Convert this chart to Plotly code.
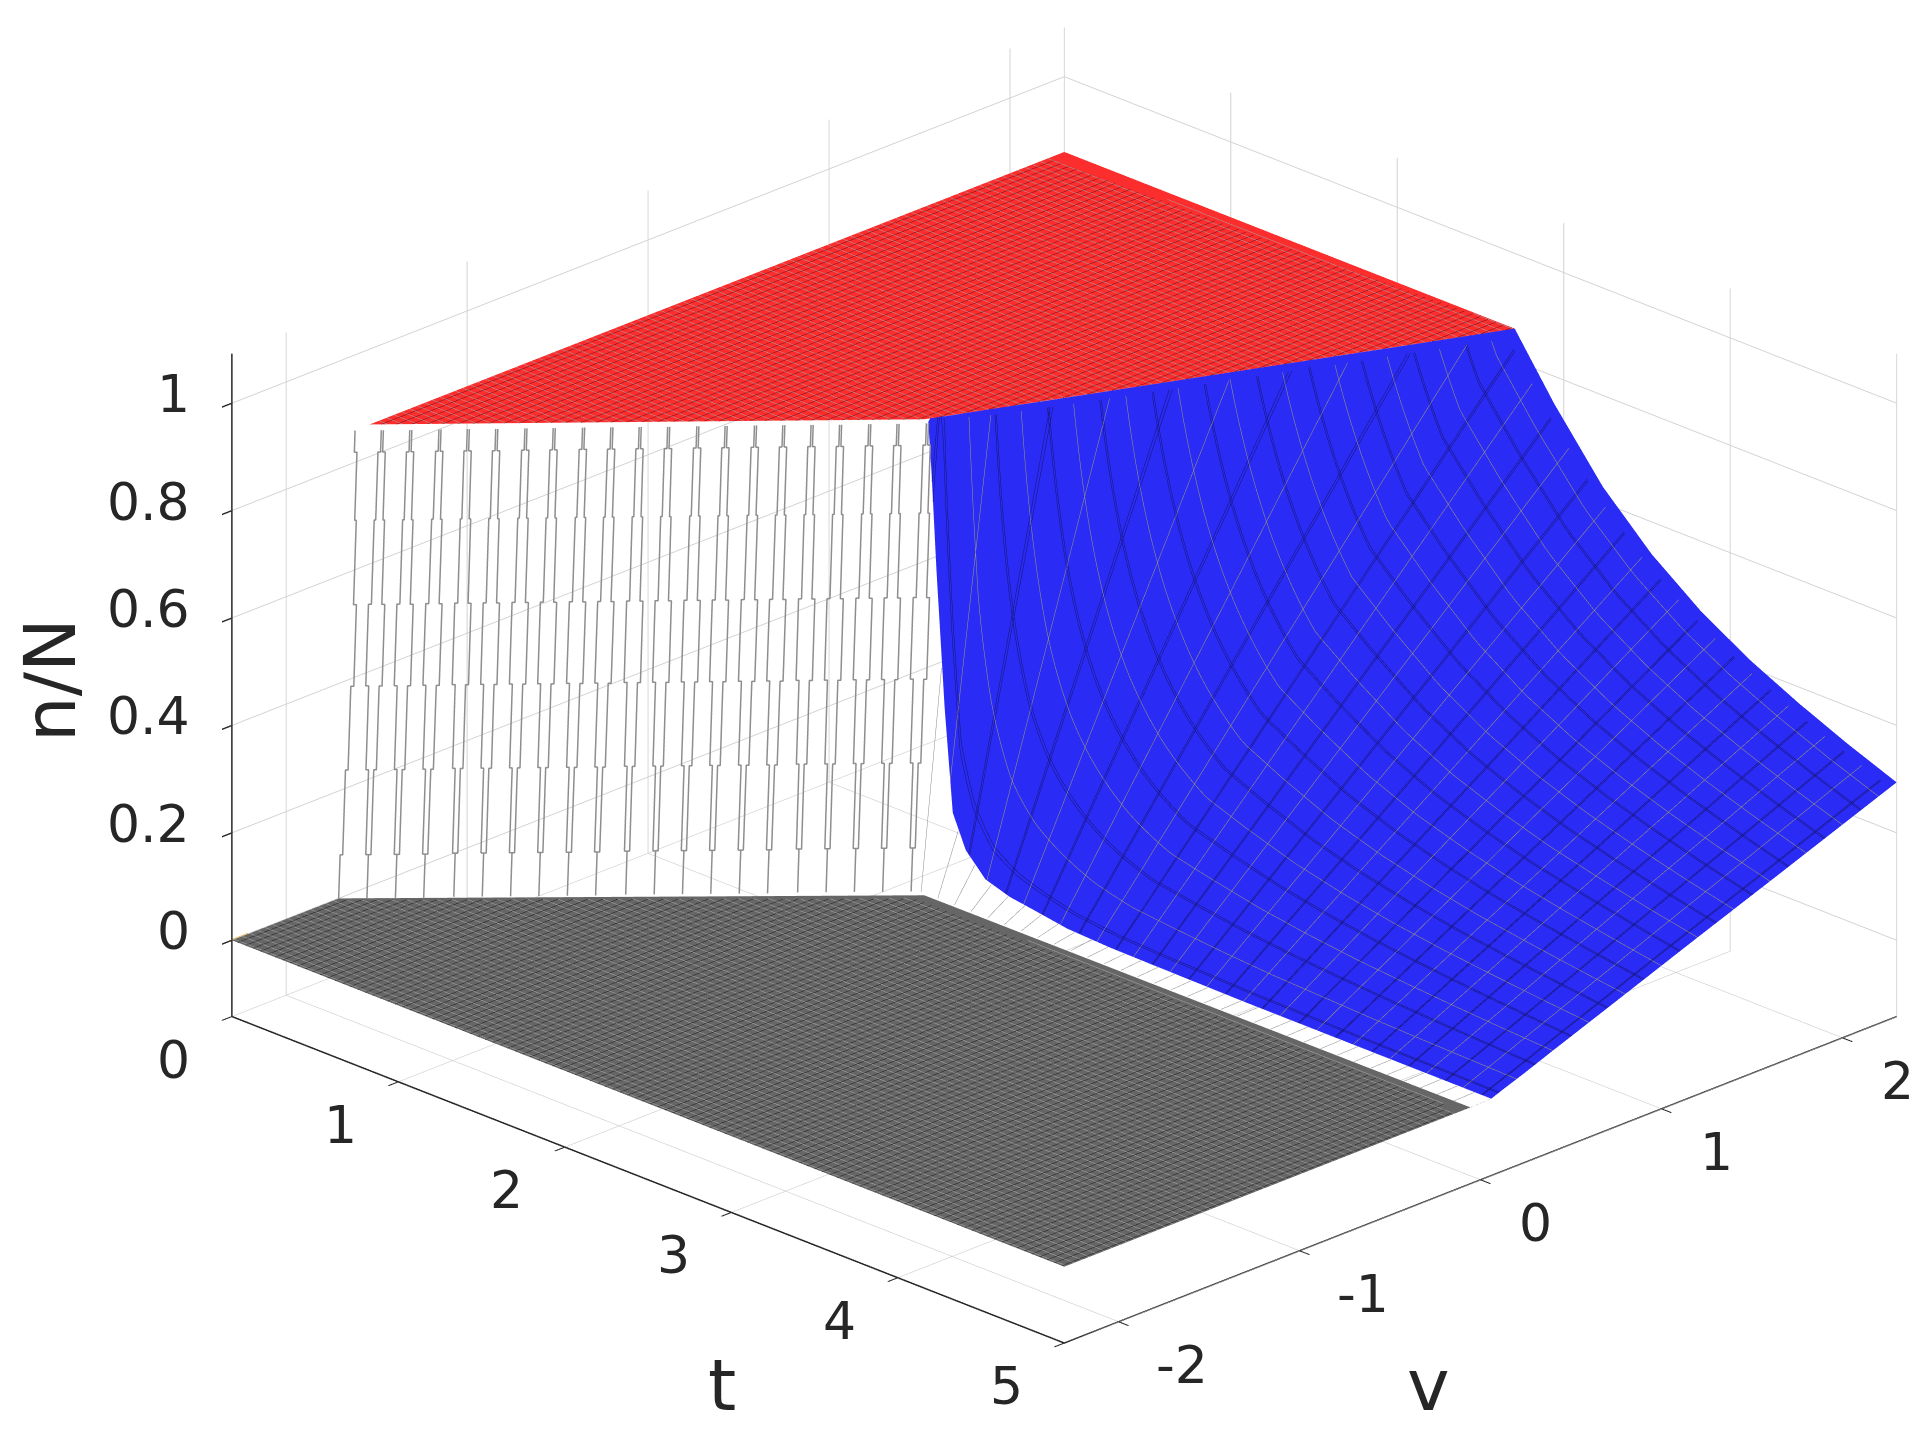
import plotly.graph_objects as go

# axis ticks
t_ticks = [0, 1, 2, 3, 4, 5]
t_labels = ["0", "1", "2", "3", "4", "5"]
v_ticks = [-2, -1, 0, 1, 2]
v_labels = ["-2", "-1", "0", "1", "2"]
z_ticks = [0, 0.2, 0.4, 0.6, 0.8, 1]
z_labels = ["0", "0.2", "0.4", "0.6", "0.8", "1"]
t_range = [0, 5]
v_range = [-2.3, 2.3]
z_range = [-0.142, 1.092]

# grey floor n/N = 0
floor_t = [0, 1.735, 5]
floor_v_min = [-2.3, -2.3, -2.3]
floor_v_edge = [-1.71, -0.07, -0.055]

# red plateau
top_level = 0.86
red_t = [0, 1.627, 2.706]
red_v_edge = [-1.54, 0.03, 2.3]
red_v_max = [2.3, 2.3, 2.3]

# wires of the wall between floor and plateau
wire_t = [0, .083, .167, .25, .333, .417, .5, .583, .667, .75, .833, .917, 1,
          1.083, 1.167, 1.25, 1.333, 1.417, 1.5, 1.583, 1.667]
wire_v_low = [-1.71, -1.63, -1.55, -1.47, -1.38, -1.3, -1.22, -1.14, -1.06, -.98, -.89,
              -.81, -.73, -.65, -.57, -.49, -.4, -.32, -.24, -.16, -.08]
wire_v_high = [-1.625, -1.545, -1.465, -1.38, -1.3, -1.22, -1.135, -1.055, -.97, -.89, -.81,
               -.73, -.645, -.565, -.48, -.4, -.32, -.24, -.155, -.075, .01]
# each wire shows as a pair of strands; their spread changes by height
wire_level = [0, .08, .236, .39, .54, .695, .82, .86]
wire_spread_v = [0, .007, .014, .022, .014, .010, .003, 0]
wire_spread_t = [0, .008, .016, .025, .016, .011, .003, 0]

# blue decaying part
blue_t = [1.618, 1.637, 1.667, 1.716, 1.765, 1.843, 1.961, 2.108, 2.255, 2.451, 2.706,
          2.941, 3.235, 3.529, 3.824, 4.118, 4.412, 4.706, 5]
blue_v_top = [0.08, 0.09, 0.11, 0.215, 0.32, 0.48, 0.73, 1.04, 1.35, 1.76, 2.3,
              2.3, 2.3, 2.3, 2.3, 2.3, 2.3, 2.3, 2.3]
blue_frac = [0, 0.03, 0.08, 0.15, 0.3, 0.5, 0.7, 0.85, 1]
blue_z = [
    [.85, .85, .851, .852, .853, .855, .857, .859, .86],
    [.76, .763, .768, .775, .79, .81, .83, .845, .86],
    [.58, .588, .602, .622, .664, .72, .776, .818, .86],
    [.33, .346, .372, .41, .489, .595, .701, .781, .86],
    [.14, .162, .198, .248, .356, .50, .644, .752, .86],
    [.08, .103, .142, .197, .314, .47, .626, .743, .86],
    [.04, .065, .106, .163, .286, .45, .614, .737, .86],
    [.025, .05, .092, .15, .276, .443, .61, .735, .86],
    [.018, .043, .085, .144, .271, .439, .607, .734, .86],
    [.008, .034, .076, .136, .264, .434, .604, .732, .86],
    [.004, .03, .072, .132, .261, .432, .603, .732, .86],
    [.003, .025, .063, .115, .227, .377, .526, .638, .75],
    [.002, .021, .052, .096, .19, .316, .442, .536, .63],
    [.001, .017, .044, .082, .163, .27, .378, .459, .54],
    [.001, .015, .039, .071, .142, .236, .329, .4, .47],
    [.001, .013, .034, .063, .125, .208, .291, .353, .415],
    [.001, .012, .03, .056, .112, .186, .259, .315, .37],
    [.001, .011, .027, .05, .1, .166, .231, .281, .33],
    [.001, .01, .024, .045, .089, .148, .206, .25, .294],
]
blue_start_v = 0.06

FLAT = dict(ambient=1, diffuse=0, specular=0, fresnel=0, roughness=1)
INK = "#262626"
NAVY = "#14146e"
KHAKI = "#a09c70"


def patch(x, y, z, base, cx, cy, sx, sy, hide=False, ox=0, oy=0):
    return go.Surface(
        x=x, y=y, z=z,
        colorscale=[[0, base], [1, base]], cmin=0, cmax=1,
        surfacecolor=[[0.5 for _ in r] for r in z],
        showscale=False, hidesurface=hide, lighting=FLAT, hoverinfo="skip",
        contours=dict(
            x=dict(show=bool(sx), start=-1 + ox, end=6, size=sx or 1, color=cx, width=1),
            y=dict(show=bool(sy), start=-3 + oy, end=3, size=sy or 1, color=cy, width=1),
            z=dict(show=False),
        ),
    )


fig = go.Figure()

# floor
fx = [[t, t] for t in floor_t]
fy = [[a, b] for a, b in zip(floor_v_min, floor_v_edge)]
fz = [[0, 0] for _ in floor_t]
fig.add_trace(patch(fx, fy, fz, "#666666", "#1e1e1e", "#a8a8a8", 0.045, 0.042))

# plateau
rx = [[t, t] for t in red_t]
ry = [[a, b] for a, b in zip(red_v_edge, red_v_max)]
rz = [[top_level, top_level] for _ in red_t]
fig.add_trace(patch(rx, ry, rz, "#fb2d2d", "#701018", "#a8a0a0", 0.045, 0.042))

# wall wires
wxs, wys, wzs = [], [], []
for t, lo, hi in zip(wire_t, wire_v_low, wire_v_high):
    for side in (-1, 1):
        for i in range(len(wire_level) - 1):
            for z in (wire_level[i], wire_level[i + 1]):
                frac = z / wire_level[-1]
                wxs.append(t + side * wire_spread_t[i])
                wys.append(lo + (hi - lo) * frac + side * wire_spread_v[i])
                wzs.append(z)
        wxs.append(None)
        wys.append(None)
        wzs.append(None)
fig.add_trace(go.Scatter3d(x=wxs, y=wys, z=wzs, mode="lines", connectgaps=False,
                           line=dict(color="#8e8e8e", width=3), hoverinfo="skip"))

# blue sheet
bx = [[t for _ in blue_frac] for t in blue_t]
by = [[blue_start_v + f * (top - blue_start_v) for f in blue_frac] for top in blue_v_top]
BLUE = "#2b2bf6"
fig.add_trace(patch(bx, by, blue_z, BLUE, NAVY, KHAKI, 0.22, 0.2))
fig.add_trace(patch(bx, by, blue_z, BLUE, NAVY, KHAKI, 0.22, 0, hide=True, ox=0.006))
fig.add_trace(patch(bx, by, blue_z, BLUE, KHAKI, NAVY, 0.22, 0.2, hide=True, ox=0.11, oy=0.1))
fig.add_trace(patch(bx, by, blue_z, BLUE, KHAKI, NAVY, 0, 0.2, hide=True, oy=0.106))

# wires between floor and blue sheet
gx = [[t, t] for t in blue_t]
gy = [[floor_v_edge[-1], blue_start_v] for _ in blue_t]
gz = [[0, r[0]] for r in blue_z]
fig.add_trace(patch(gx, gy, gz, "#ffffff", "#8c8c8c", "#8c8c8c", 0.1, 0, hide=True))

# small orange mark on the first corner
fig.add_trace(go.Scatter3d(x=[0, 0], y=[-2.3, -2.21], z=[0, 0], mode="lines",
                           line=dict(color="#f5a61e", width=4), hoverinfo="skip"))

# heavier axis lines over the box edges
fig.add_trace(go.Scatter3d(
    x=[t_range[0], t_range[1], None, t_range[1], t_range[1], None, t_range[0], t_range[0]],
    y=[v_range[0], v_range[0], None, v_range[0], v_range[1], None, v_range[0], v_range[0]],
    z=[z_range[0], z_range[0], None, z_range[0], z_range[0], None, z_range[0], z_range[1]],
    mode="lines", line=dict(color=INK, width=3), hoverinfo="skip"))

axis_common = dict(
    showbackground=False, showgrid=True, gridcolor="#d2d2d2", gridwidth=2,
    zeroline=False, showline=True, linecolor=INK, linewidth=3,
    ticks="outside", ticklen=14, tickcolor=INK, tickwidth=3,
    showticklabels=False,
    title=dict(text=""), showspikes=False, tickmode="array",
)

tick_font = dict(family="DejaVu Sans", size=52, color=INK)
labels = []
for val, text in zip(t_ticks, t_labels):
    labels.append(dict(x=val, y=v_range[0], z=z_range[0], text=text, showarrow=False,
                       xshift=-58, yshift=-43, font=tick_font))
for val, text in zip(v_ticks, v_labels):
    labels.append(dict(x=t_range[1], y=val, z=z_range[0], text=text, showarrow=False,
                       xshift=63 if val < 0 else 55, yshift=-43, font=tick_font))
for val, text in zip(z_ticks, z_labels):
    labels.append(dict(x=t_range[0], y=v_range[0], z=val, text=text, showarrow=False,
                       xanchor="right", xshift=-40, yshift=9, font=tick_font))

title_font = dict(family="DejaVu Sans", size=72, color=INK)

fig.update_layout(
    width=1931, height=1433,
    margin=dict(l=0, r=0, t=0, b=0),
    paper_bgcolor="white",
    showlegend=False,
    scene=dict(
        domain=dict(x=[0, 1], y=[0, 1]),
        xaxis=dict(range=t_range, tickvals=t_ticks, ticktext=t_labels, **axis_common),
        yaxis=dict(range=v_range, tickvals=v_ticks, ticktext=v_labels, **axis_common),
        zaxis=dict(range=z_range, tickvals=z_ticks, ticktext=z_labels, **axis_common),
        aspectmode="manual",
        aspectratio=dict(x=1.643, y=1.643, z=1.0055),
        camera=dict(
            projection=dict(type="orthographic"),
            eye=dict(x=1.215, y=-1.41, z=0.744),
            center=dict(x=-0.085, y=-0.11, z=-0.04),
            up=dict(x=0, y=0, z=1),
        ),
        annotations=labels,
    ),
    annotations=[
        dict(text="t", x=722 / 1931, y=1 - 1385 / 1433, xref="paper", yref="paper", showarrow=False,
             xanchor="center", yanchor="middle", font=title_font),
        dict(text="v", x=1428 / 1931, y=1 - 1385 / 1433, xref="paper", yref="paper", showarrow=False,
             xanchor="center", yanchor="middle", font=title_font),
        dict(text="n/N", x=50 / 1931, y=1 - 680 / 1433, xref="paper", yref="paper", showarrow=False,
             xanchor="center", yanchor="middle", textangle=-90, font=title_font),
    ],
)

fig.write_html("out.html", config=dict(displayModeBar=False),
               post_script="document.body.style.margin='0';")
